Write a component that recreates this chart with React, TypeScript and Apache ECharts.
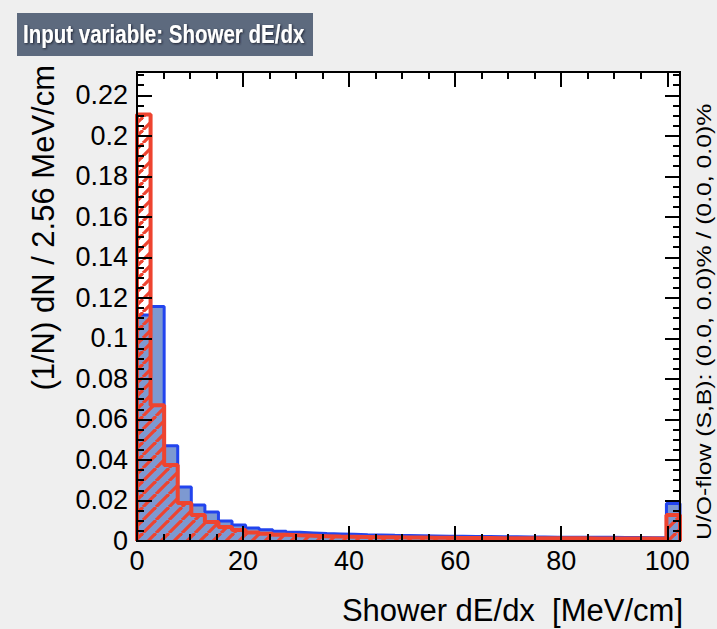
import React, { useEffect, useRef } from 'react';
import * as echarts from 'echarts';

const BIN_WIDTH = 2.56;
const X_MIN = 0;
const X_MAX = 102.4;
const Y_MIN = 0;
const Y_MAX = 0.2315;

const xTickLabels = ['0', '20', '40', '60', '80', '100'];
const yTickLabels = ['0', '0.02', '0.04', '0.06', '0.08', '0.1', '0.12', '0.14', '0.16', '0.18', '0.2', '0.22'];

// Signal (blue, filled) normalised bin contents
const signal = [
  0.1115, 0.1158, 0.0470, 0.0267, 0.0178, 0.0143, 0.0099, 0.0079, 0.0064, 0.0055,
  0.0048, 0.0043, 0.0040, 0.0037, 0.0035, 0.0033, 0.0031, 0.0030, 0.0028, 0.0027,
  0.0026, 0.0025, 0.0024, 0.0023, 0.0022, 0.0022, 0.0021, 0.0021, 0.0020, 0.0020,
  0.0019, 0.0019, 0.0018, 0.0018, 0.0018, 0.0017, 0.0017, 0.0016, 0.0016, 0.0185,
];

// Background (red, hatched) normalised bin contents
const background = [
  0.2105, 0.0670, 0.0375, 0.0188, 0.0128, 0.0094, 0.0069, 0.0054, 0.0042, 0.0036,
  0.0031, 0.0028, 0.0026, 0.0024, 0.0022, 0.0021, 0.0020, 0.0019, 0.0018, 0.0017,
  0.0017, 0.0016, 0.0016, 0.0015, 0.0015, 0.0015, 0.0014, 0.0014, 0.0014, 0.0013,
  0.0013, 0.0013, 0.0013, 0.0012, 0.0012, 0.0012, 0.0012, 0.0012, 0.0011, 0.0128,
];

const FONT = '"Liberation Sans", Arial, Helvetica, sans-serif';

function histPoints(vals: number[]): number[][] {
  const pts: number[][] = [[X_MIN, 0]];
  vals.forEach((v, i) => {
    const a = X_MIN + i * BIN_WIDTH;
    pts.push([a, v], [a + BIN_WIDTH, v]);
  });
  pts.push([X_MIN + vals.length * BIN_WIDTH, 0]);
  return pts;
}

function makeHatch(): string {
  const s = 13;
  const c = document.createElement('canvas');
  c.width = s;
  c.height = s;
  const ctx = c.getContext('2d')!;
  ctx.strokeStyle = '#ee4430';
  ctx.lineWidth = 3.2;
  for (let k = -1; k <= 1; k++) {
    ctx.beginPath();
    ctx.moveTo(k * s, s);
    ctx.lineTo(k * s + s, 0);
    ctx.stroke();
  }
  return c.toDataURL();
}

function matchLabel(labels: string[], v: number): string {
  const f = labels.find((l) => Math.abs(parseFloat(l) - v) < 1e-9);
  return f === undefined ? '' : f;
}

export default function App() {
  const ref = useRef<HTMLDivElement>(null);
  useEffect(() => {
    document.body.style.margin = '0';
    if (!ref.current) return;
    const chart = echarts.init(ref.current, undefined, { renderer: 'svg' });
    const hatch = makeHatch();

    const lineCommon = { show: true, onZero: false, lineStyle: { color: '#000', width: 2 } };
    const xBase = (pos: string, major: boolean, labels: boolean) => ({
      type: 'value',
      position: pos,
      min: X_MIN,
      max: X_MAX,
      interval: major ? 20 : 5,
      z: 10,
      axisLine: lineCommon,
      splitLine: { show: false },
      axisTick: { show: true, inside: true, length: major ? 15 : 7, lineStyle: { color: '#000', width: 2 } },
      axisLabel: labels
        ? {
            show: true,
            showMaxLabel: false,
            margin: 6,
            color: '#000',
            fontSize: 27,
            fontFamily: FONT,
            formatter: (v: number) => matchLabel(xTickLabels, v),
          }
        : { show: false },
    });
    const yBase = (pos: string, major: boolean, labels: boolean) => ({
      type: 'value',
      position: pos,
      min: Y_MIN,
      max: Y_MAX,
      interval: major ? 0.02 : 0.005,
      z: 10,
      axisLine: lineCommon,
      splitLine: { show: false },
      axisTick: { show: true, inside: true, length: major ? 15 : 7, lineStyle: { color: '#000', width: 2 } },
      axisLabel: labels
        ? {
            show: true,
            showMaxLabel: false,
            margin: 9,
            color: '#000',
            fontSize: 27,
            fontFamily: FONT,
            formatter: (v: number) => matchLabel(yTickLabels, v),
          }
        : { show: false },
    });

    chart.setOption({
      animation: false,
      backgroundColor: '#efefef',
      grid: {
        left: 137,
        top: 72,
        width: 543,
        height: 469,
        show: true,
        backgroundColor: '#ffffff',
        borderWidth: 0,
        containLabel: false,
      },
      xAxis: [
        xBase('bottom', true, true),
        xBase('bottom', false, false),
        xBase('top', true, false),
        xBase('top', false, false),
      ],
      yAxis: [
        yBase('left', true, true),
        yBase('left', false, false),
        yBase('right', true, false),
        yBase('right', false, false),
      ],
      series: [
        {
          name: 'Signal',
          type: 'line',
          xAxisIndex: 0,
          yAxisIndex: 0,
          data: histPoints(signal),
          showSymbol: false,
          symbol: 'none',
          lineStyle: { color: '#2244ee', width: 3 },
          areaStyle: { color: '#7d99d1', opacity: 1 },
          z: 2,
        },
        {
          name: 'Background',
          type: 'line',
          xAxisIndex: 0,
          yAxisIndex: 0,
          data: histPoints(background),
          showSymbol: false,
          symbol: 'none',
          lineStyle: { color: '#ee4430', width: 4 },
          areaStyle: {
            color: { image: hatch, repeat: 'repeat', imageWidth: 13, imageHeight: 13 },
            opacity: 1,
          },
          z: 3,
        },
      ],
      graphic: [
        {
          type: 'rect',
          shape: { x: 17, y: 13, width: 296, height: 43 },
          style: { fill: '#5d6a7e' },
        },
        {
          type: 'text',
          x: 23,
          y: 34.5,
          scaleX: 0.82,
          style: {
            text: 'Input variable: Shower dE/dx',
            font: 'bold 25px ' + FONT,
            fill: '#ffffff',
            align: 'left',
            verticalAlign: 'middle',
            textAlign: 'left',
            textVerticalAlign: 'middle',
            textShadowColor: '#1a2230',
            textShadowBlur: 2,
            textShadowOffsetX: 1,
            textShadowOffsetY: 1,
          },
        },
        {
          type: 'text',
          x: 683,
          y: 610,
          style: {
            text: 'Shower dE/dx  [MeV/cm]',
            font: '31px ' + FONT,
            fill: '#000',
            align: 'right',
            verticalAlign: 'middle',
            textAlign: 'right',
            textVerticalAlign: 'middle',
          },
        },
        {
          type: 'text',
          x: 43,
          y: 65,
          rotation: Math.PI / 2,
          style: {
            text: '(1/N) dN / 2.56 MeV/cm',
            font: '31px ' + FONT,
            fill: '#000',
            align: 'right',
            verticalAlign: 'middle',
            textAlign: 'right',
            textVerticalAlign: 'middle',
          },
        },
        {
          type: 'text',
          x: 704,
          y: 540,
          rotation: Math.PI / 2,
          scaleX: 1.18,
          style: {
            text: 'U/O-flow (S,B): (0.0, 0.0)% / (0.0, 0.0)%',
            font: '21px ' + FONT,
            fill: '#000',
            align: 'left',
            verticalAlign: 'middle',
            textAlign: 'left',
            textVerticalAlign: 'middle',
          },
        },
      ],
    });
    return () => chart.dispose();
  }, []);
  return <div ref={ref} style={{ width: 717, height: 629 }} />;
}
